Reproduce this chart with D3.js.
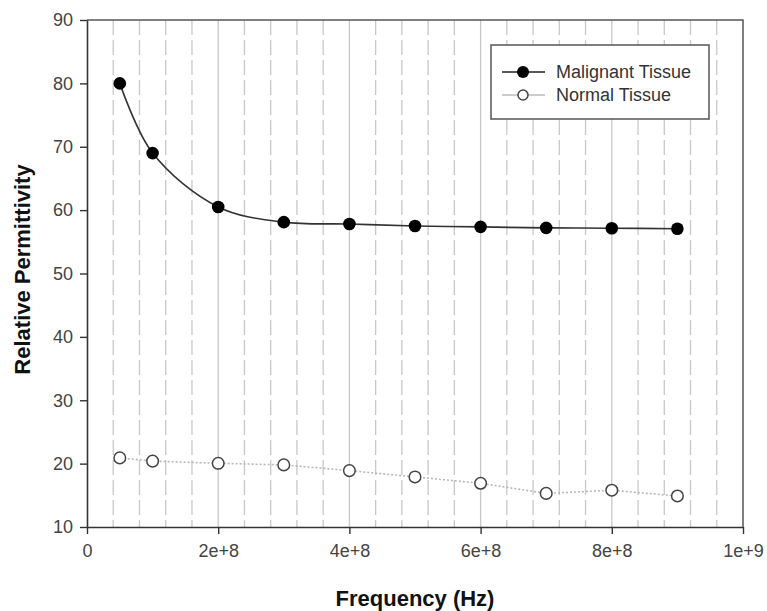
<!DOCTYPE html>
<html>
<head>
<meta charset="utf-8">
<script src="https://cdn.jsdelivr.net/npm/d3@7/dist/d3.min.js"></script>
<style>
  html, body { margin: 0; padding: 0; background: #fff; }
  svg { display: block; font-family: "Liberation Sans", Arial, sans-serif; }
</style>
</head>
<body>
<svg id="chart" width="767" height="611"></svg>
<script>
// Frequency (Hz) of each measurement
const frequencies = [5e7, 1e8, 2e8, 3e8, 4e8, 5e8, 6e8, 7e8, 8e8, 9e8];
// Relative permittivity per tissue type
const malignant = [80, 69, 60.5, 58.1, 57.8, 57.5, 57.35, 57.2, 57.15, 57.05];
const normal = [20.9, 20.4, 20.05, 19.8, 18.9, 17.9, 16.9, 15.3, 15.8, 14.9];
// Axis ticks
const xTicks = [0, 2e8, 4e8, 6e8, 8e8, 1e9];
const xTickLabels = ["0", "2e+8", "4e+8", "6e+8", "8e+8", "1e+9"];
const xMinorStep = 4e7;
const yTicks = [10, 20, 30, 40, 50, 60, 70, 80, 90];
const seriesNames = ["Malignant Tissue", "Normal Tissue"];

const svg = d3.select("#chart");
const plot = { left: 87, right: 743, top: 20, bottom: 527 };

const x = d3.scaleLinear().domain([0, 1e9]).range([plot.left, plot.right]);
const y = d3.scaleLinear().domain([10, 90]).range([plot.bottom, plot.top]);

// Vertical grid: dashed at minor steps, solid at major ticks
const minor = d3.range(xMinorStep, 1e9, xMinorStep).filter(v => Math.abs(v / 2e8 - Math.round(v / 2e8)) > 1e-6);
const grid = svg.append("g");
grid.selectAll("line.minor").data(minor).join("line")
  .attr("class", "minor")
  .attr("x1", d => x(d)).attr("x2", d => x(d))
  .attr("y1", plot.top).attr("y2", plot.bottom)
  .attr("stroke", "#c8c8c8").attr("stroke-width", 1.3)
  .attr("stroke-dasharray", "15,5");
grid.selectAll("line.major").data(xTicks.slice(1, -1)).join("line")
  .attr("class", "major")
  .attr("x1", d => x(d)).attr("x2", d => x(d))
  .attr("y1", plot.top).attr("y2", plot.bottom)
  .attr("stroke", "#c8c8c8").attr("stroke-width", 1.3);

// Frame (top and right)
svg.append("path")
  .attr("d", `M${plot.left},${plot.top}H${plot.right}V${plot.bottom}`)
  .attr("fill", "none").attr("stroke", "#555").attr("stroke-width", 1.5);

// Axes
const xAxis = d3.axisBottom(x).tickValues(xTicks)
  .tickFormat((d, i) => xTickLabels[i]).tickSize(7).tickPadding(10).tickSizeOuter(0);
const yAxis = d3.axisLeft(y).tickValues(yTicks).tickSize(7).tickPadding(7).tickSizeOuter(0);

const gx = svg.append("g").attr("transform", `translate(0,${plot.bottom})`).call(xAxis);
const gy = svg.append("g").attr("transform", `translate(${plot.left},0)`).call(yAxis);
[gx, gy].forEach(g => {
  g.select(".domain").attr("stroke", "#333").attr("stroke-width", 1.6);
  g.selectAll(".tick line").attr("stroke", "#333").attr("stroke-width", 1.4);
  g.selectAll(".tick text").attr("fill", "#444").attr("font-size", 18)
    .attr("font-family", "'Liberation Sans', Arial, sans-serif");
});

// Axis titles
svg.append("text")
  .attr("x", (plot.left + plot.right) / 2).attr("y", 606)
  .attr("text-anchor", "middle").attr("font-size", 22).attr("font-weight", "bold")
  .attr("fill", "#111").text("Frequency (Hz)");
svg.append("text")
  .attr("transform", `translate(30,${(plot.top + plot.bottom) / 2 - 4}) rotate(-90)`)
  .attr("text-anchor", "middle").attr("font-size", 22).attr("font-weight", "bold")
  .attr("fill", "#111").text("Relative Permittivity");

// Series
const malPts = frequencies.map((f, i) => [f, malignant[i]]);
const norPts = frequencies.map((f, i) => [f, normal[i]]);

svg.append("path")
  .datum(norPts)
  .attr("d", d3.line().x(d => x(d[0])).y(d => y(d[1])))
  .attr("fill", "none").attr("stroke", "#b8b8b8").attr("stroke-width", 1.6)
  .attr("stroke-dasharray", "2,2");

svg.append("path")
  .datum(malPts)
  .attr("d", d3.line().x(d => x(d[0])).y(d => y(d[1])).curve(d3.curveCatmullRom.alpha(0.5)))
  .attr("fill", "none").attr("stroke", "#333").attr("stroke-width", 1.6);

svg.append("g").selectAll("circle").data(norPts).join("circle")
  .attr("cx", d => x(d[0])).attr("cy", d => y(d[1])).attr("r", 5.8)
  .attr("fill", "#fff").attr("stroke", "#444").attr("stroke-width", 1.5);

svg.append("g").selectAll("circle").data(malPts).join("circle")
  .attr("cx", d => x(d[0])).attr("cy", d => y(d[1])).attr("r", 6.3)
  .attr("fill", "#000");

// Legend
const lg = svg.append("g");
lg.append("rect")
  .attr("x", 491).attr("y", 45).attr("width", 218).attr("height", 74)
  .attr("fill", "#fff").attr("stroke", "#555").attr("stroke-width", 1.5);
const rows = [
  { name: seriesNames[0], y: 72, line: "#222", fill: "#000", stroke: "none", r: 6 },
  { name: seriesNames[1], y: 95, line: "#bbb", fill: "#fff", stroke: "#444", r: 5 }
];
rows.forEach(r => {
  lg.append("line").attr("x1", 502).attr("x2", 545).attr("y1", r.y).attr("y2", r.y)
    .attr("stroke", r.line).attr("stroke-width", 1.6);
  lg.append("circle").attr("cx", 523).attr("cy", r.y).attr("r", r.r)
    .attr("fill", r.fill).attr("stroke", r.stroke).attr("stroke-width", 1.5);
  lg.append("text").attr("x", 556).attr("y", r.y).attr("dy", "0.35em")
    .attr("font-size", 18).attr("fill", "#333").text(r.name);
});
</script>
</body>
</html>
